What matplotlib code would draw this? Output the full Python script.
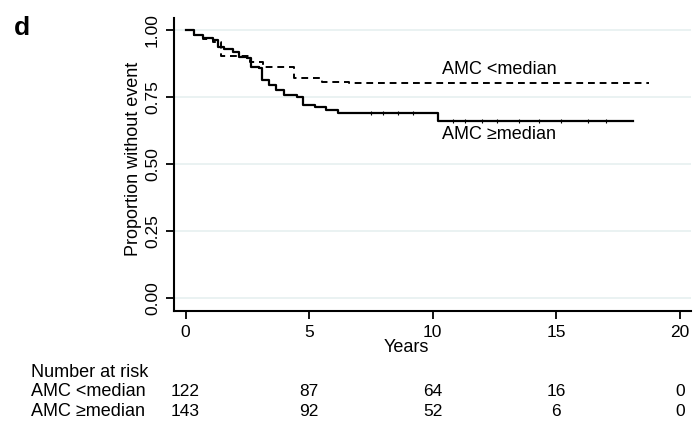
import matplotlib
matplotlib.use("Agg")
import matplotlib.pyplot as plt
import matplotlib.transforms as mtransforms

plt.rcParams['font.family'] = ['Liberation Sans', 'DejaVu Sans']

# Kaplan-Meier trinn lest av bildet (tid i år, andel uten hendelse)
low_t = [0, 0.35, 0.7, 1.1, 1.45, 2.6, 3.15, 4.4, 5.5, 6.6, 18.75]
low_s = [1.0, 0.98, 0.965, 0.955, 0.905, 0.882, 0.863, 0.822, 0.807, 0.801, 0.801]

high_t = [0, 0.35, 0.7, 1.1, 1.3, 1.57, 1.9, 2.17, 2.5, 2.64, 2.98, 3.1, 3.38,
          3.65, 3.98, 4.5, 4.77, 5.24, 5.7, 6.17, 10.2, 18.1]
high_s = [1.0, 0.981, 0.969, 0.963, 0.938, 0.928, 0.919, 0.9, 0.894, 0.863, 0.857,
          0.813, 0.794, 0.776, 0.757, 0.749, 0.72, 0.711, 0.7, 0.689, 0.662, 0.662]

# sensurerte observasjoner på den heltrukne kurven
cens_t = [7.5, 8.0, 8.6, 9.2, 10.8, 11.3, 12.0, 12.6, 13.5, 14.3, 15.2, 16.3, 17.0]
cens_s = [0.689, 0.689, 0.689, 0.689, 0.662, 0.662, 0.662, 0.662, 0.662, 0.662, 0.662, 0.662, 0.662]

risk_times = [0, 5, 10, 15, 20]
risk_low = [122, 87, 64, 16, 0]
risk_high = [143, 92, 52, 6, 0]
group_names = ["AMC <median", "AMC \u2265median"]

fs = 12.5

fig = plt.figure(figsize=(6.94, 4.23), dpi=100)
ax = fig.add_axes([174 / 694, 112 / 423, 517 / 694, 293 / 423])

for y in [0, 0.25, 0.5, 0.75, 1.0]:
    ax.axhline(y, color='#e6f0f0', lw=1.2, zorder=0)

ax.step(low_t, low_s, where='post', color='black', lw=1.4, ls=(0, (3.5, 2.5)))
ax.step(high_t, high_s, where='post', color='black', lw=1.6)
ax.plot(cens_t, cens_s, ls='none', marker='|', ms=3, color='black', mew=0.8)

ax.text(12.68, 0.851, group_names[0], ha='center', va='center', fontsize=13)
ax.text(12.68, 0.610, group_names[1], ha='center', va='center', fontsize=13)

ax.set_xlim(-0.47, 20.45)
ax.set_ylim(-0.0485, 1.045)
ax.set_xticks(risk_times)
ax.set_yticks([0, 0.25, 0.5, 0.75, 1.0])
ax.set_yticklabels(['0.00', '0.25', '0.50', '0.75', '1.00'], rotation=90, va='center')
ax.tick_params(labelsize=fs, length=6, width=1.3, pad=4)
ax.spines['top'].set_visible(False)
ax.spines['right'].set_visible(False)
ax.spines['left'].set_linewidth(1.5)
ax.spines['bottom'].set_linewidth(1.5)
ax.set_xlabel("Years", fontsize=13)
ax.xaxis.set_label_coords(0.449, -0.123)
ax.xaxis.label.set_va('center')
ax.set_ylabel("Proportion without event", fontsize=13)
ax.yaxis.set_label_coords(-0.079, 0.52)
ax.yaxis.label.set_va('center')

# tabell med antall i risiko
trans = mtransforms.blended_transform_factory(ax.transData, fig.transFigure)
fig.text(31 / 694, 1 - 372 / 423, "Number at risk", fontsize=13, va='center')
for row, (name, vals) in enumerate(zip(group_names, [risk_low, risk_high])):
    yy = 1 - (391 + 20 * row) / 423
    fig.text(31 / 694, yy, name, fontsize=13, va='center')
    for t, v in zip(risk_times, vals):
        ax.text(t, yy, str(v), transform=trans, ha='center', va='center', fontsize=fs)

fig.text(14 / 694, 1 - 28 / 423, "d", fontsize=19, fontweight='bold', va='center')

fig.savefig("out.png", dpi=100)
